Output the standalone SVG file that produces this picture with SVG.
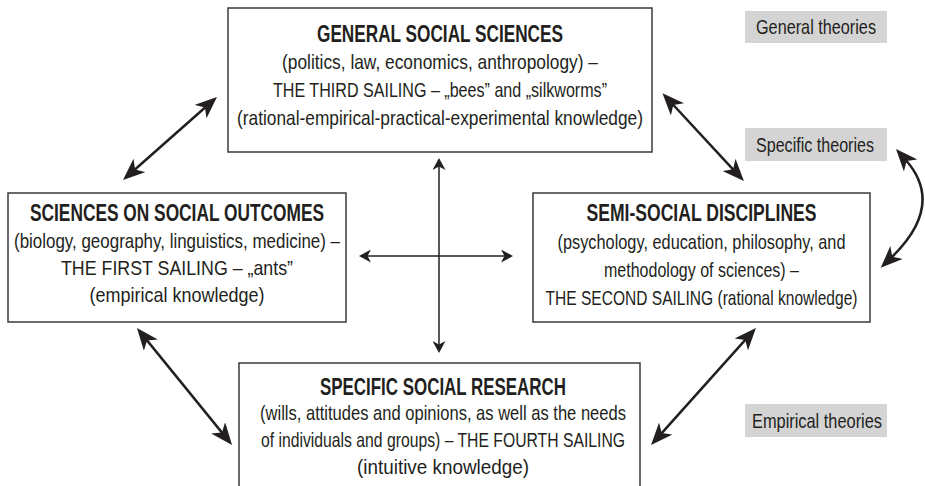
<svg xmlns="http://www.w3.org/2000/svg" width="925" height="486" viewBox="0 0 925 486">
<style>
.box{fill:#fff;stroke:#3a3a3a;stroke-width:1.5}
.lbl{fill:#d4d4d4}
text{font-family:"Liberation Sans",Arial,sans-serif;fill:#231f20;text-anchor:middle}
.t{font-size:23px;font-weight:bold}
.b{font-size:21px}
.l{font-size:21px}
.thick{stroke:#231f20;stroke-width:2.5;fill:none;marker-start:url(#big);marker-end:url(#big)}
.thin{stroke:#231f20;stroke-width:1.5;fill:none;marker-start:url(#small);marker-end:url(#small)}
</style>
<defs>
<marker id="big" viewBox="0 0 22 18" refX="8" refY="9" markerWidth="22" markerHeight="18" markerUnits="userSpaceOnUse" orient="auto-start-reverse">
<path d="M0,0 L22,9 L0,18 L6,9 z" fill="#231f20"/>
</marker>
<marker id="small" viewBox="0 0 12 13" refX="4" refY="6.5" markerWidth="12" markerHeight="13" markerUnits="userSpaceOnUse" orient="auto-start-reverse">
<path d="M0,0 L12,6.5 L0,13 L3.5,6.5 z" fill="#231f20"/>
</marker>
</defs>

<g id="general">
<rect class="box" x="228" y="8" width="424" height="144"/>
<text class="t" x="440" y="42" textLength="246" lengthAdjust="spacingAndGlyphs">GENERAL SOCIAL SCIENCES</text>
<text class="b" x="440" y="69" textLength="316" lengthAdjust="spacingAndGlyphs">(politics, law, economics, anthropology) –</text>
<text class="b" x="440" y="97" textLength="334" lengthAdjust="spacingAndGlyphs">THE THIRD SAILING – „bees” and „silkworms”</text>
<text class="b" x="440" y="125" textLength="406" lengthAdjust="spacingAndGlyphs">(rational-empirical-practical-experimental knowledge)</text>
</g>

<g id="outcomes">
<rect class="box" x="8" y="193" width="338" height="129"/>
<text class="t" x="177" y="221" textLength="294" lengthAdjust="spacingAndGlyphs">SCIENCES ON SOCIAL OUTCOMES</text>
<text class="b" x="177" y="248" textLength="326" lengthAdjust="spacingAndGlyphs">(biology, geography, linguistics, medicine) –</text>
<text class="b" x="177" y="275" textLength="232" lengthAdjust="spacingAndGlyphs">THE FIRST SAILING – „ants”</text>
<text class="b" x="177" y="302" textLength="175" lengthAdjust="spacingAndGlyphs">(empirical knowledge)</text>
</g>

<g id="semi">
<rect class="box" x="533" y="193" width="337" height="129"/>
<text class="t" x="701.5" y="221" textLength="230" lengthAdjust="spacingAndGlyphs">SEMI-SOCIAL DISCIPLINES</text>
<text class="b" x="701.5" y="249" textLength="288" lengthAdjust="spacingAndGlyphs">(psychology, education, philosophy, and</text>
<text class="b" x="701.5" y="277" textLength="195" lengthAdjust="spacingAndGlyphs">methodology of sciences) –</text>
<text class="b" x="701.5" y="305" textLength="312" lengthAdjust="spacingAndGlyphs">THE SECOND SAILING (rational knowledge)</text>
</g>

<g id="specific">
<rect class="box" x="239" y="363" width="401" height="140"/>
<text class="t" x="443" y="395" textLength="246" lengthAdjust="spacingAndGlyphs">SPECIFIC SOCIAL RESEARCH</text>
<text class="b" x="443" y="420" textLength="366" lengthAdjust="spacingAndGlyphs">(wills, attitudes and opinions, as well as the needs</text>
<text class="b" x="443" y="447" textLength="364" lengthAdjust="spacingAndGlyphs">of individuals and groups) – THE FOURTH SAILING</text>
<text class="b" x="443" y="474" textLength="172" lengthAdjust="spacingAndGlyphs">(intuitive knowledge)</text>
</g>

<g id="label-general">
<rect class="lbl" x="745" y="11" width="142" height="32"/>
<text class="l" x="816" y="34" textLength="120" lengthAdjust="spacingAndGlyphs">General theories</text>
</g>
<g id="label-specific">
<rect class="lbl" x="745" y="128" width="142" height="33"/>
<text class="l" x="815" y="152" textLength="118" lengthAdjust="spacingAndGlyphs">Specific theories</text>
</g>
<g id="label-empirical">
<rect class="lbl" x="745" y="404" width="142" height="33"/>
<text class="l" x="817" y="428" textLength="130" lengthAdjust="spacingAndGlyphs">Empirical theories</text>
</g>

<g id="connectors">
<line class="thick" x1="206.5" y1="106.3" x2="133.5" y2="170.7"/>
<line class="thick" x1="672" y1="103.5" x2="734.4" y2="170.8"/>
<line class="thick" x1="145.8" y1="338.9" x2="223.2" y2="434.1"/>
<line class="thick" x1="746.6" y1="338.4" x2="660.4" y2="434.6"/>
<path class="thick" d="M905.3,159.5 Q946,205 890.8,258.1"/>
<line class="thin" x1="439" y1="166" x2="439" y2="345"/>
<line class="thin" x1="367" y1="256" x2="505" y2="256"/>
</g>
</svg>
